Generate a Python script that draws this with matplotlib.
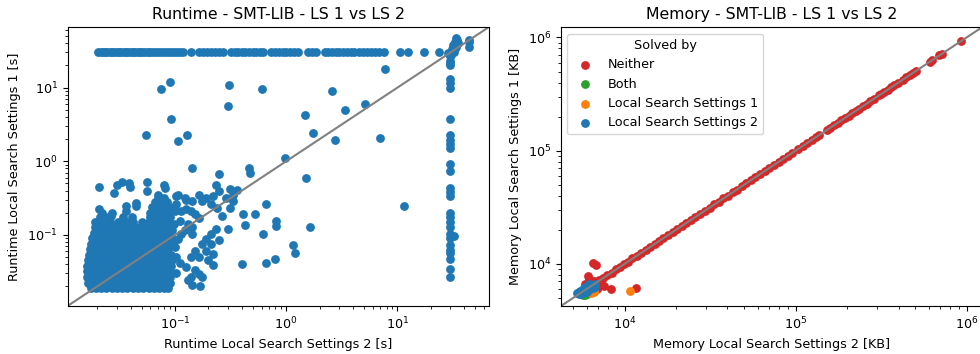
#!/usr/bin/env python3
"""
Scatter comparison of two local search settings on SMT-LIB:
runtime (left) and memory (right), both on log-log axes.
"""

import matplotlib
matplotlib.use('Agg')
import matplotlib.pyplot as plt

TIMEOUT = 30.0

# --- Runtime [s] -----------------------------------------------------------
# LS2 runtimes of instances where LS1 ran into the timeout
timeout_row_ls2 = [0.0205, 0.0215, 0.0225, 0.0235, 0.0245, 0.026, 0.0272, 0.0285,
                   0.030, 0.0315, 0.033, 0.0345, 0.036, 0.038, 0.040, 0.042, 0.044,
                   0.046, 0.048, 0.051, 0.054, 0.057, 0.060, 0.064, 0.068, 0.072,
                   0.076, 0.081, 0.086, 0.092, 0.098, 0.105, 0.112, 0.117, 0.139,
                   0.166, 0.18, 0.195, 0.21, 0.23, 0.25, 0.27, 0.32, 0.345, 0.37,
                   0.40, 0.43, 0.46, 0.50, 0.54, 0.58, 0.62, 0.73, 0.79, 0.86, 0.93,
                   1.0, 1.08, 1.17, 1.27, 1.57, 1.72, 1.87, 2.22, 2.4, 2.6, 2.8, 3.0,
                   3.25, 3.5, 3.8, 4.1, 4.5, 4.9, 5.3, 5.8, 6.3, 6.9, 7.5, 10.6, 12.5,
                   17.2, 23.5]

# LS1 runtimes of instances where LS2 ran into the timeout
timeout_col_ls1 = [0.0266, 0.0345, 0.047, 0.056, 0.063, 0.072, 0.091, 0.103, 0.127,
                   0.148, 0.173, 0.20, 0.336, 0.38, 0.435, 0.73, 0.91, 1.52, 1.69,
                   1.93, 2.25, 3.77, 9.8, 11.7, 12.9, 20.5, 22.7]

# instances near the timeout for both settings
near_timeout_ls2 = [28.8, 31.0, 33.2, 33.9, 33.5, 34.5, 31.5, 30.0, 29.5, 43.7, 44.5,
                    43.7, 32.0, 30.5, 31.0, 35.0, 33.0, 32.0]
near_timeout_ls1 = [29.4, 31.0, 34.0, 36.0, 46.7, 44.0, 38.0, 26.5, 21.6, 44.0, 42.0,
                    36.0, 30.0, 28.0, 33.0, 40.0, 42.0, 0.096]

# scattered instances outside the dense region
scatter_ls2 = [0.0547, 0.128, 0.106, 0.092, 0.0748, 0.090, 0.30, 0.305, 0.60, 1.47,
               1.75, 2.56, 2.74, 3.37, 5.1, 6.97, 7.8,
               0.142, 0.251, 0.46, 0.47, 0.97, 1.52, 0.66, 0.264, 0.41, 0.52, 0.43,
               0.30, 0.62, 0.81, 0.81, 1.63, 0.251, 1.15, 1.19, 0.40, 0.66, 0.79, 11.4,
               0.0207, 0.0283, 0.0303, 0.0337, 0.0387, 0.039, 0.0555, 0.056, 0.0697,
               0.080, 0.081, 0.106, 0.102, 0.126, 0.166, 0.19, 0.234, 0.251, 0.31,
               0.333, 0.364, 0.036, 0.0444, 0.045, 0.0207, 0.0222, 0.0274, 0.0264, 0.036,
               0.099, 0.114, 0.126, 0.139, 0.151, 0.166, 0.110, 0.13, 0.142, 0.122,
               0.142, 0.102, 0.122, 0.142, 0.175, 0.218, 0.211, 0.24, 0.287, 0.31,
               0.333, 0.097, 0.094,
               0.102, 0.13, 0.142, 0.169, 0.175, 0.139, 0.151, 0.175, 0.19, 0.211,
               0.218, 0.218, 0.211, 0.234, 0.166, 0.19, 0.197, 0.151, 0.126, 0.110,
               0.102, 0.099, 0.106, 0.114, 0.166, 0.139]
scatter_ls1 = [2.30, 2.30, 1.87, 3.77, 9.5, 11.9, 5.7, 11.0, 9.5, 4.3,
               2.44, 9.0, 1.93, 5.0, 5.97, 2.07, 18.0,
               0.82, 0.67, 0.80, 0.69, 1.12, 0.59, 0.26, 0.182, 0.19, 0.19, 0.134,
               0.12, 0.103, 0.152, 0.131, 0.127, 0.086, 0.072, 0.057, 0.040, 0.041,
               0.047, 0.244,
               0.445, 0.373, 0.48, 0.53, 0.51, 0.445, 0.52, 0.40, 0.353,
               0.48, 0.43, 0.353, 0.26, 0.30, 0.353, 0.32, 0.48, 0.39, 0.42,
               0.353, 0.41, 0.247, 0.27, 0.247, 0.223, 0.20, 0.20, 0.182, 0.212,
               0.212, 0.212, 0.223, 0.212, 0.19, 0.172, 0.156, 0.14, 0.127, 0.115,
               0.103, 0.336, 0.32, 0.29, 0.29, 0.336, 0.26, 0.233, 0.32, 0.233,
               0.29, 0.14, 0.115,
               0.030, 0.0245, 0.021, 0.020, 0.027, 0.050, 0.061, 0.075, 0.088, 0.075,
               0.0557, 0.039, 0.103, 0.12, 0.050, 0.061, 0.045, 0.033, 0.037, 0.041,
               0.050, 0.068, 0.088, 0.103, 0.029, 0.027]

# dense region of fast instances: (LS1 runtime, [LS2 runtimes])
dense_rows = [
    (0.019, [0.0175, 0.0195, 0.0215, 0.024, 0.027, 0.030, 0.0335, 0.037, 0.0415,
             0.046, 0.052, 0.058, 0.065, 0.072, 0.080, 0.087]),
    (0.0225, [0.0165, 0.0185, 0.0205, 0.023, 0.0255, 0.0285, 0.032, 0.0355, 0.0395,
              0.044, 0.049, 0.055, 0.061, 0.068, 0.076, 0.085, 0.091]),
    (0.027, [0.016, 0.0178, 0.0198, 0.022, 0.0245, 0.0275, 0.031, 0.0345, 0.0385,
             0.043, 0.048, 0.054, 0.060, 0.067, 0.075, 0.083, 0.090]),
    (0.032, [0.016, 0.0175, 0.0195, 0.0215, 0.024, 0.027, 0.030, 0.0335, 0.037,
             0.0415, 0.046, 0.052, 0.058, 0.065, 0.072, 0.080, 0.089]),
    (0.038, [0.0162, 0.018, 0.020, 0.0225, 0.025, 0.028, 0.0315, 0.035, 0.039,
             0.044, 0.049, 0.055, 0.061, 0.068, 0.076, 0.085, 0.092]),
    (0.045, [0.0165, 0.0178, 0.0197, 0.022, 0.0245, 0.0275, 0.031, 0.0345, 0.0385,
             0.043, 0.048, 0.054, 0.060, 0.067, 0.075, 0.084, 0.094]),
    (0.054, [0.017, 0.0185, 0.0205, 0.023, 0.0255, 0.0285, 0.032, 0.0355, 0.0395,
             0.044, 0.049, 0.055, 0.061, 0.068, 0.076, 0.085, 0.092]),
    (0.064, [0.0172, 0.019, 0.021, 0.0235, 0.026, 0.029, 0.0325, 0.036, 0.040,
             0.045, 0.050, 0.056, 0.062, 0.069, 0.077, 0.086]),
    (0.076, [0.0175, 0.0192, 0.0213, 0.0238, 0.0265, 0.0295, 0.033, 0.0365, 0.041,
             0.0455, 0.051, 0.057, 0.063, 0.070, 0.078, 0.087, 0.095]),
    (0.09, [0.018, 0.020, 0.022, 0.0245, 0.0272, 0.0303, 0.034, 0.0375, 0.042,
            0.047, 0.052, 0.058, 0.064, 0.071, 0.079, 0.088, 0.094]),
    (0.107, [0.0185, 0.0203, 0.0225, 0.025, 0.028, 0.031, 0.0345, 0.0385, 0.043,
             0.048, 0.053, 0.059, 0.066, 0.073, 0.081, 0.090]),
    (0.127, [0.019, 0.021, 0.0232, 0.026, 0.029, 0.032, 0.0355, 0.039, 0.044,
             0.049, 0.055, 0.061, 0.068, 0.076, 0.085, 0.093]),
    (0.15, [0.019, 0.022, 0.026, 0.031, 0.036, 0.042, 0.050, 0.058, 0.066, 0.075,
            0.085]),
    (0.175, [0.021, 0.025, 0.034, 0.041, 0.060, 0.070, 0.080, 0.090]),
    (0.20, [0.060, 0.068, 0.077, 0.087]),
    (0.24, [0.062, 0.070, 0.079, 0.088]),
    (0.28, [0.066, 0.075, 0.084]),
    (0.32, [0.071, 0.079]),
]

# --- Memory [KB] -----------------------------------------------------------
neither_ls2 = [6700, 7100, 7500, 7900, 8400, 8900, 9400, 9900, 10500, 11100, 11800,
               12500, 13300, 14100, 15000, 15900, 16900, 18000, 19100, 20300, 21600,
               23000, 24500, 26000, 27700, 29500, 31400, 33400, 35500, 37800, 40200,
               42800, 45500, 48400, 51500, 54800, 58300, 62000, 66000, 70200, 74700,
               79500, 84500, 90000, 95500, 104000, 110000, 117000, 124000, 131000,
               138000, 152000, 160000, 168000, 176000, 185000, 194000, 204000, 214000,
               225000, 236000, 248000, 260000, 273000, 286000, 309000, 318000, 328000,
               347000, 362000, 378000, 395000, 425000, 445000, 464000, 485000, 507000,
               607000, 629000, 693000, 720000, 927000,
               6540, 6840, 6120, 6200, 8290, 11600, 7000, 7300, 6400, 6600, 6900, 7600,
               6300, 5900]
neither_ls1 = [6650, 7150, 7450, 8000, 8350, 9000, 9350, 10000, 10400, 11200, 11700,
               12600, 13200, 14200, 14900, 16000, 16800, 18100, 19000, 20400, 21500,
               23100, 24400, 26100, 27600, 29600, 31300, 33500, 35400, 37900, 40100,
               42900, 45400, 48500, 51400, 54900, 58200, 62100, 65900, 70300, 74600,
               79600, 84400, 90100, 95400, 104500, 109500, 117500, 123500, 131500,
               137500, 152500, 159500, 168500, 175500, 185500, 193500, 204500, 213500,
               225500, 235500, 248500, 259500, 273500, 285500, 310000, 317000, 329000,
               346000, 363000, 377000, 396000, 424000, 446000, 463000, 486000, 506000,
               608000, 628000, 694000, 719000, 930000,
               10200, 9700, 7800, 7300, 6050, 6120, 6300, 6600, 6700, 7000, 6000, 6400,
               6500, 6600]

both_ls2 = [5850, 5700, 6000, 5600]
both_ls1 = [5350, 5300, 5400, 5500]

ls1_only_ls2 = [10700, 6400, 6600]
ls1_only_ls1 = [5810, 5550, 5700]

ls2_only_ls2 = [5300, 5400, 5500, 5600, 5700, 5800, 5950, 6100, 6250, 6400, 6550, 6700,
                5500, 5700, 5900, 6100, 5800, 6000, 6300, 6500, 6700, 5400, 5600, 6200]
ls2_only_ls1 = [5500, 5600, 5500, 5700, 5800, 5900, 6000, 6150, 6300, 6400, 6500, 6650,
                5800, 6000, 6200, 6400, 5600, 5700, 5950, 6150, 6300, 5400, 5450, 6600]

SOLVED_BY = ['Neither', 'Both', 'Local Search Settings 1', 'Local Search Settings 2']
COLORS = ['#d62728', '#2ca02c', '#ff7f0e', '#1f77b4']


def runtime_points():
    """Collect all runtime pairs as (ls2, ls1) lists."""
    xs, ys = [], []
    for ls1, row in dense_rows:
        for ls2 in row:
            xs.append(ls2)
            ys.append(ls1)
    xs += scatter_ls2
    ys += scatter_ls1
    xs += timeout_row_ls2
    ys += [TIMEOUT] * len(timeout_row_ls2)
    xs += [TIMEOUT] * len(timeout_col_ls1)
    ys += timeout_col_ls1
    xs += near_timeout_ls2
    ys += near_timeout_ls1
    return xs, ys


def draw_diagonal(ax, lims):
    ax.plot(lims, lims, color='grey', linewidth=1.5)
    ax.set_xlim(lims)
    ax.set_ylim(lims)


def main():
    plt.rcParams['font.size'] = 9.2

    fig = plt.figure(figsize=(9.8, 3.54), dpi=100)
    ax_rt = fig.add_axes([0.0689, 0.1356, 0.4296, 0.7873])
    ax_mem = fig.add_axes([0.5724, 0.1356, 0.4296, 0.7873])

    scatter_kw = dict(s=40, linewidths=0)

    # Runtime
    xs, ys = runtime_points()
    ax_rt.scatter(xs, ys, color=COLORS[3], **scatter_kw)
    ax_rt.set_xscale('log')
    ax_rt.set_yscale('log')
    draw_diagonal(ax_rt, [0.0108, 66])
    ax_rt.set_title('Runtime - SMT-LIB - LS 1 vs LS 2', fontsize=11.3)
    ax_rt.set_xlabel('Runtime Local Search Settings 2 [s]')
    ax_rt.set_ylabel('Runtime Local Search Settings 1 [s]')

    # Memory, coloured by which setting solved the instance
    groups = [(neither_ls2, neither_ls1), (both_ls2, both_ls1),
              (ls1_only_ls2, ls1_only_ls1), (ls2_only_ls2, ls2_only_ls1)]
    for (gx, gy), label, color in zip(groups, SOLVED_BY, COLORS):
        ax_mem.scatter(gx, gy, color=color, label=label, **scatter_kw)
    ax_mem.set_xscale('log')
    ax_mem.set_yscale('log')
    draw_diagonal(ax_mem, [4250, 1.23e6])
    ax_mem.set_title('Memory - SMT-LIB - LS 1 vs LS 2', fontsize=11.3)
    ax_mem.set_xlabel('Memory Local Search Settings 2 [KB]')
    ax_mem.set_ylabel('Memory Local Search Settings 1 [KB]')
    ax_mem.legend(title='Solved by', loc='upper left')

    fig.savefig('out.png', dpi=100)
    plt.close(fig)


if __name__ == '__main__':
    main()
